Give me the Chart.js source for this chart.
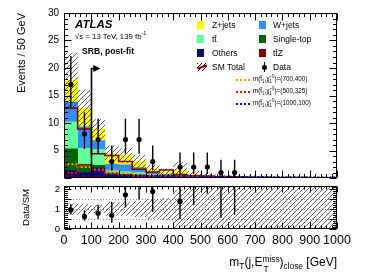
<!DOCTYPE html>
<html><head><meta charset="utf-8">
<script src="https://cdn.jsdelivr.net/npm/chart.js@4.4.0/dist/chart.umd.min.js"></script>
<style>
body{margin:0;background:#fff;}
#wrap{position:relative;width:390px;height:280px;overflow:hidden;font-family:"Liberation Sans",Arial,Helvetica,sans-serif;background:#fff;}
canvas{position:absolute;left:0;}
.t{position:absolute;white-space:nowrap;color:#000;line-height:1;}
.box{position:absolute;width:7px;height:8px;}
.lg{font-size:8.5px;}
.sg{font-size:6.3px;}
.dl{position:absolute;width:14px;height:0;border-top:2px dotted;}
sub,sup{font-size:70%;line-height:0;}
.ss{display:inline-block;position:relative;width:17px;height:1px;}
.ss span{position:absolute;left:0;font-size:70%;}
</style></head><body>
<div id="wrap">
<canvas id="c1" width="390" height="182" style="top:0"></canvas>
<canvas id="c2" width="390" height="98" style="top:182px"></canvas>

<div class="t" style="left:75px;top:19px;font-size:11.5px;font-weight:bold;font-style:italic;">ATLAS</div>
<div class="t" style="left:75px;top:33px;font-size:7.8px;">√s = 13 TeV, 139 fb<sup>-1</sup></div>
<div class="t" style="left:82px;top:47px;font-size:8.6px;font-weight:bold;">SRB, post-fit</div>

<div class="box" style="left:197px;top:21px;background:#ffff00"></div><div class="t lg" style="left:212px;top:21px;">Z+jets</div>
<div class="box" style="left:259px;top:21px;background:#2e8fff"></div><div class="t lg" style="left:273px;top:21px;">W+jets</div>
<div class="box" style="left:197px;top:35px;background:#63ff9a"></div><div class="t lg" style="left:212px;top:35px;">tt̄</div>
<div class="box" style="left:259px;top:35px;background:#006400"></div><div class="t lg" style="left:273px;top:35px;">Single-top</div>
<div class="box" style="left:197px;top:49px;background:#0c0a6a"></div><div class="t lg" style="left:212px;top:49px;">Others</div>
<div class="box" style="left:259px;top:49px;background:#7a0000"></div><div class="t lg" style="left:273px;top:49px;">tt̄Z</div>
<div class="box" style="left:197px;top:63px;width:10px;background:repeating-linear-gradient(-45deg,#000 0 0.7px,transparent 0.7px 3px);"><div style="position:absolute;left:0;top:3px;width:10px;height:1.5px;background:#8b0000;transform:rotate(-20deg);"></div></div><div class="t lg" style="left:212px;top:63px;">SM Total</div>
<div style="position:absolute;left:264px;top:62px;width:1.2px;height:10px;background:#000;"></div><div style="position:absolute;left:262px;top:64.5px;width:5px;height:5px;border-radius:50%;background:#000;"></div><div class="t lg" style="left:273px;top:63px;">Data</div>

<div class="dl" style="left:236px;top:79px;border-color:#ff9a00;"></div><div class="t sg" style="left:253px;top:76px;">m(t̃<sub>1</sub>,χ̃<sub>1</sub><sup>0</sup>)=(700,400)</div>
<div class="dl" style="left:236px;top:91px;border-color:#ff0000;"></div><div class="t sg" style="left:253px;top:88px;">m(t̃<sub>1</sub>,χ̃<sub>1</sub><sup>0</sup>)=(500,325)</div>
<div class="dl" style="left:236px;top:103px;border-color:#0000ff;"></div><div class="t sg" style="left:253px;top:100px;">m(t̃<sub>1</sub>,χ̃<sub>1</sub><sup>0</sup>)=(1000,100)</div>

<div class="t" style="right:53px;top:256px;font-size:12px;">m<sub>T</sub>(j,E<span class="ss"><span style="top:-10px;">miss</span><span style="top:0px;left:1px;">T</span></span>)<sub>close</sub> [GeV]</div>
</div>
<script>
// ---------------- data ----------------
const binCenters = [25,75,125,175,225,275,325,375,425,475,525,575,625,675,725,775,825,875,925,975];
const binWidth = 50;
const ttZ       = [0.5,0.4,0.3,0.15,0.15,0.1,0.1,0.05,0.05,0.03,0.02,0.02,0.02,0.01,0.01,0.01,0.01,0.01,0.01,0.01];
const others    = [0.9,0.6,1.5,0.35,0.3,0.3,0.2,0.15,0.15,0.1,0.05,0.04,0.03,0.03,0.02,0.02,0.02,0.01,0.01,0.01];
const singleTop = [3.9,1.5,0.5,0.3,0.2,0.2,0.1,0.05,0.05,0.02,0.02,0.01,0.01,0.01,0.01,0.01,0.01,0.01,0.01,0.0];
const ttbar     = [4.9,2.9,2.9,0.5,0.5,0.4,0.2,0.15,0.15,0.1,0.06,0.05,0.04,0.03,0.02,0.02,0.01,0.01,0.01,0.01];
const wjets     = [3.6,3.9,1.6,1.2,1.25,0.9,0.4,0.3,0.35,0.15,0.1,0.08,0.06,0.05,0.04,0.03,0.02,0.02,0.01,0.01];
const zjets     = [4.0,3.4,2.1,1.9,1.7,1.1,0.6,0.4,0.7,0.2,0.15,0.1,0.08,0.07,0.05,0.04,0.03,0.02,0.02,0.01];
const smErr     = [5.0,3.3,1.8,1.5,1.4,1.2,0.8,0.6,1.4,0.7,0.5,0.35,0.3,0.25,0.2,0.15,0.12,0.1,0.08,0.06];
const dataCounts  = [17,8,7,3,7,7,3,0,2,2,2,1,1,0,0,0,0,0,0,0];
const dataErrLow  = [4.1,2.77,2.58,1.63,2.58,2.58,1.63,0,1.29,1.29,1.29,0.83,0.83,0,0,0,0,0,0,0];
const dataErrHigh = [5.2,3.94,3.78,2.92,3.78,3.78,2.92,0,2.64,2.64,2.64,2.30,2.30,0,0,0,0,0,0,0];
const sig700_400  = [2.4,2.5,2.0,1.5,1.4,0.9,0.6,0.5,0.4,0.3,0.25,0.2,0.15,0.12,0.1,0.08,0.06,0.05,0.04,0.03];
const sig500_325  = [0.7,0.9,2.3,1.4,0.9,0.6,0.4,0.3,0.3,0.35,0.4,0.3,0.2,0.15,0.1,0.08,0.06,0.05,0.04,0.03];
const sig1000_100 = [0.3,0.35,0.4,0.45,0.45,0.4,0.4,0.35,0.35,0.3,0.3,0.28,0.25,0.22,0.2,0.18,0.15,0.12,0.1,0.1];
const xTicks = [0,100,200,300,400,500,600,700,800,900,1000];
const yTicks = [5,10,15,20,25,30];
const ratioTicks = [0,0.5,1,1.5,2];
const ratioRefLines = [0.5,1,1.5];
const cutValue = 100, arrowTop = 20, arrowEnd = 133;

// ---------------- helpers ----------------
const FONT = '"Liberation Sans", Arial, Helvetica, sans-serif';
const smTotal = binCenters.map((_, i) => ttZ[i]+others[i]+singleTop[i]+ttbar[i]+wjets[i]+zjets[i]);
const pts = arr => binCenters.map((c, i) => ({x: c, y: arr[i]}));
const stepPts = arr => {
  const p = binCenters.map((c, i) => ({x: c - binWidth/2, y: arr[i]}));
  p.push({x: binCenters[binCenters.length-1] + binWidth/2, y: arr[arr.length-1]});
  return p;
};
function hatchPattern(ctx) {
  const s = 5, p = document.createElement('canvas');
  p.width = p.height = s;
  const g = p.getContext('2d');
  g.strokeStyle = '#222'; g.lineWidth = 0.7;
  g.beginPath();
  g.moveTo(0, s); g.lineTo(s, 0);
  g.moveTo(-1, 1); g.lineTo(1, -1);
  g.moveTo(s-1, s+1); g.lineTo(s+1, s-1);
  g.stroke();
  return ctx.createPattern(p, 'repeat');
}
const noPad = s => { s.paddingTop = 0; s.paddingBottom = 0; s.paddingLeft = 0; s.paddingRight = 0; };
const frameTicks = {
  id: 'frameTicks',
  afterDraw(chart, args, o) {
    const {ctx, chartArea: a, scales: {x, y}} = chart;
    ctx.save();
    ctx.strokeStyle = '#000'; ctx.lineWidth = 1;
    const L = Math.round(a.left)+0.5, R = Math.round(a.right)-0.5, T = Math.round(a.top)+0.5, B = Math.round(a.bottom)-0.5;
    ctx.strokeRect(L, T, R-L, B-T);
    ctx.beginPath();
    for (let v = x.min; v <= x.max + 1e-9; v += o.xMinor) {
      const px = Math.round(x.getPixelForValue(v)) + 0.5;
      const major = Math.abs(v / o.xMajor - Math.round(v / o.xMajor)) < 1e-6;
      const l = major ? o.xLen : o.xLen/2;
      ctx.moveTo(px, B); ctx.lineTo(px, B - l);
      ctx.moveTo(px, T); ctx.lineTo(px, T + l);
    }
    for (let v = y.min; v <= y.max + 1e-9; v += o.yMinor) {
      const py = Math.round(y.getPixelForValue(v)) + 0.5;
      const major = Math.abs(v / o.yMajor - Math.round(v / o.yMajor)) < 1e-6;
      const l = major ? o.yLen : o.yLen/2;
      ctx.moveTo(L, py); ctx.lineTo(L + l, py);
      ctx.moveTo(R, py); ctx.lineTo(R - l, py);
    }
    ctx.stroke();
    ctx.restore();
  }
};
function drawErrorBars(chart, values, lows, highs) {
  const {ctx, chartArea: a, scales: {x, y}} = chart;
  ctx.save();
  ctx.beginPath(); ctx.rect(a.left, a.top, a.right - a.left, a.bottom - a.top); ctx.clip();
  ctx.strokeStyle = '#000'; ctx.lineWidth = 1.4;
  ctx.beginPath();
  binCenters.forEach((c, i) => {
    if (values[i] === null) return;
    const px = x.getPixelForValue(c);
    ctx.moveTo(px, y.getPixelForValue(lows[i]));
    ctx.lineTo(px, y.getPixelForValue(highs[i]));
  });
  ctx.stroke();
  ctx.restore();
}

// ---------------- main panel ----------------
const mainPlugin = {
  id: 'mainExtras',
  afterDatasetDraw(chart, args) {
    if (args.index !== 0) return;
    const {ctx, chartArea: a, scales: {x, y}} = chart;
    ctx.save();
    ctx.beginPath(); ctx.rect(a.left, a.top, a.right - a.left, a.bottom - a.top); ctx.clip();
    ctx.fillStyle = hatchPattern(ctx);
    binCenters.forEach((c, i) => {
      const x0 = x.getPixelForValue(c - binWidth/2), x1 = x.getPixelForValue(c + binWidth/2);
      const y0 = y.getPixelForValue(Math.max(0, smTotal[i] - smErr[i]));
      const y1 = y.getPixelForValue(smTotal[i] + smErr[i]);
      ctx.fillRect(x0, y1, x1 - x0, y0 - y1);
    });
    ctx.restore();
  },
  afterDatasetsDraw(chart) {
    const {ctx, scales: {x, y}} = chart;
    const dv = dataCounts.map(v => v > 0 ? v : null);
    drawErrorBars(chart, dv,
      dataCounts.map((v, i) => v - dataErrLow[i]),
      dataCounts.map((v, i) => v + dataErrHigh[i]));
    // cut arrow
    ctx.save();
    ctx.strokeStyle = '#000'; ctx.fillStyle = '#000'; ctx.lineWidth = 1.6;
    const cx = Math.round(x.getPixelForValue(cutValue)) + 0.5, yb = y.getPixelForValue(0), yt = Math.round(y.getPixelForValue(arrowTop)) + 0.5;
    const xe = x.getPixelForValue(arrowEnd);
    ctx.beginPath(); ctx.moveTo(cx, yb); ctx.lineTo(cx, yt); ctx.lineTo(xe - 5, yt); ctx.stroke();
    ctx.beginPath(); ctx.moveTo(xe, yt); ctx.lineTo(xe - 7, yt - 3.5); ctx.lineTo(xe - 7, yt + 3.5); ctx.closePath(); ctx.fill();
    ctx.restore();
  }
};

const barDS = (label, arr, color) => ({type: 'bar', label, data: pts(arr), backgroundColor: color, borderWidth: 0, stack: 'bg', order: 10, barPercentage: 1, categoryPercentage: 1});
const stepDS = (label, arr, color, dash, width, order) => ({type: 'line', label, data: stepPts(arr), borderColor: color, borderWidth: width, borderDash: dash, stepped: 'after', pointRadius: 0, fill: false, stack: label, order});

new Chart(document.getElementById('c1'), {
  type: 'bar',
  data: {
    datasets: [
      barDS('ttZ', ttZ, '#7a0000'),
      barDS('Others', others, '#0c0a6a'),
      barDS('Single-top', singleTop, '#006400'),
      barDS('ttbar', ttbar, '#63ff9a'),
      barDS('W+jets', wjets, '#2e8fff'),
      barDS('Z+jets', zjets, '#ffff00'),
      stepDS('SM Total', smTotal, '#8b0000', [], 1.6, 4),
      stepDS('(700,400)', sig700_400, '#ff9a00', [2, 2], 2, 3),
      stepDS('(500,325)', sig500_325, '#ff0000', [2, 2], 2, 2),
      stepDS('(1000,100)', sig1000_100, '#0000ff', [2, 2], 2, 1),
      {type: 'line', label: 'Data', data: binCenters.map((c, i) => ({x: c, y: dataCounts[i] > 0 ? dataCounts[i] : null})), showLine: false, pointRadius: 2.6, pointBackgroundColor: '#000', pointBorderWidth: 0, stack: 'data', order: 0}
    ]
  },
  options: {
    responsive: false, animation: false, devicePixelRatio: 1,
    layout: {padding: {left: 0, right: 53, top: 13, bottom: 3}},
    plugins: {legend: {display: false}, tooltip: {enabled: false},
      frameTicks: {xMajor: 100, xMinor: 20, xLen: 7, yMajor: 5, yMinor: 1, yLen: 7}},
    scales: {
      x: {type: 'linear', min: 0, max: 1000, display: false, offset: false, grid: {display: false}},
      y: {type: 'linear', min: 0, max: 30, stacked: true,
        afterFit: s => { s.width = 64; noPad(s); },
        afterBuildTicks: s => { s.ticks = yTicks.map(v => ({value: v})); },
        grid: {display: false, drawTicks: false}, border: {display: false},
        ticks: {color: '#000', padding: 5, font: {family: FONT, size: 10}, callback: v => String(v)},
        title: {display: true, text: 'Events / 50 GeV', align: 'end', color: '#000', font: {family: FONT, size: 11}, padding: {top: 15}}}
    }
  },
  plugins: [mainPlugin, frameTicks]
});

// ---------------- ratio panel ----------------
const ratioVals = binCenters.map((c, i) => dataCounts[i] > 0 && smTotal[i] > 0 ? dataCounts[i] / smTotal[i] : null);
const ratioPlugin = {
  id: 'ratioExtras',
  beforeDatasetsDraw(chart) {
    const {ctx, chartArea: a, scales: {x, y}} = chart;
    ctx.save();
    ctx.beginPath(); ctx.rect(a.left, a.top, a.right - a.left, a.bottom - a.top); ctx.clip();
    ctx.strokeStyle = '#888'; ctx.lineWidth = 1; ctx.setLineDash([1, 2]);
    ctx.beginPath();
    ratioRefLines.forEach(v => { const py = Math.round(y.getPixelForValue(v)) + 0.5; ctx.moveTo(a.left, py); ctx.lineTo(a.right, py); });
    ctx.stroke();
    ctx.setLineDash([]);
    ctx.fillStyle = hatchPattern(ctx);
    binCenters.forEach((c, i) => {
      const rel = smErr[i] / smTotal[i];
      const x0 = x.getPixelForValue(c - binWidth/2), x1 = x.getPixelForValue(c + binWidth/2);
      const y0 = y.getPixelForValue(Math.max(y.min, 1 - rel)), y1 = y.getPixelForValue(Math.min(y.max, 1 + rel));
      ctx.fillRect(x0, y1, x1 - x0, y0 - y1);
    });
    ctx.restore();
  },
  afterDatasetsDraw(chart) {
    drawErrorBars(chart, ratioVals,
      dataCounts.map((v, i) => (v - dataErrLow[i]) / smTotal[i]),
      dataCounts.map((v, i) => (v + dataErrHigh[i]) / smTotal[i]));
  }
};

new Chart(document.getElementById('c2'), {
  type: 'line',
  data: {datasets: [{label: 'Data/SM', data: binCenters.map((c, i) => ({x: c, y: ratioVals[i]})), showLine: false, pointRadius: 2.6, pointBackgroundColor: '#000', pointBorderWidth: 0}]},
  options: {
    responsive: false, animation: false, devicePixelRatio: 1,
    layout: {padding: {left: 0, right: 53, top: 2, bottom: 0}},
    plugins: {legend: {display: false}, tooltip: {enabled: false},
      frameTicks: {xMajor: 100, xMinor: 20, xLen: 6, yMajor: 0.5, yMinor: 0.1, yLen: 7}},
    scales: {
      x: {type: 'linear', min: 0, max: 1000,
        afterFit: s => { s.height = 51; noPad(s); },
        afterBuildTicks: s => { s.ticks = xTicks.map(v => ({value: v})); },
        grid: {display: false, drawTicks: false}, border: {display: false},
        ticks: {color: '#000', padding: 4, autoSkip: false, maxRotation: 0, minRotation: 0, font: {family: FONT, size: 12.5}, callback: v => String(v)}},
      y: {type: 'linear', min: 0, max: 2.15,
        afterFit: s => { s.width = 64; noPad(s); },
        afterBuildTicks: s => { s.ticks = ratioTicks.map(v => ({value: v})); },
        grid: {display: false, drawTicks: false}, border: {display: false},
        ticks: {color: '#000', padding: 4, font: {family: FONT, size: 9.5}, callback: v => String(v)},
        title: {display: true, text: 'Data/SM', align: 'center', color: '#000', font: {family: FONT, size: 9.5}, padding: {top: 21}}}
    }
  },
  plugins: [ratioPlugin, frameTicks]
});
</script>
</body></html>
